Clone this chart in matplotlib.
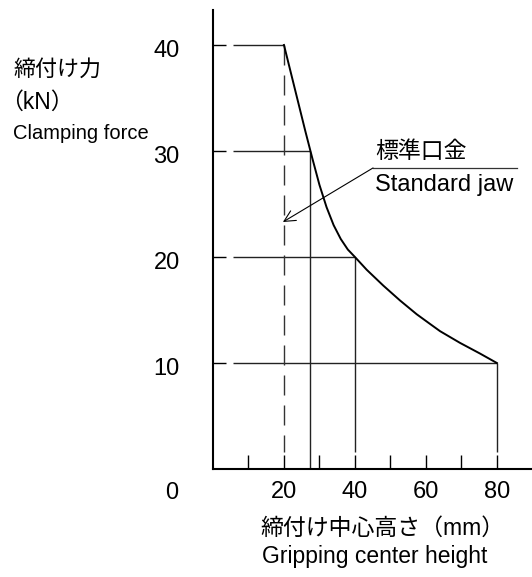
import matplotlib
matplotlib.use("Agg")
import matplotlib.pyplot as plt
from matplotlib.transforms import ScaledTranslation

plt.rcParams['font.family'] = ['Liberation Sans', 'Noto Sans CJK JP']
plt.rcParams['lines.scale_dashes'] = False

# Curve: standard jaw clamping force vs gripping center height
height_mm = [20, 22, 24, 26, 28, 30, 32, 34, 36, 38, 40,
             43.3, 48, 52.7, 57.4, 61.1, 64, 69.6, 75.2, 80]
force_kN = [40, 37.3, 34.6, 31.9, 29.3, 26.8, 24.7, 23.0, 21.7, 20.7, 20.0,
            18.8, 17.3, 15.9, 14.6, 13.7, 13.0, 11.9, 10.9, 10.0]

# Reference guide points (height, force) on the curve
guide_h = [20, 27.4, 40, 80]
guide_f = [40, 30, 20, 10]

x_ticks = [10, 20, 30, 40, 50, 60, 70, 80]
x_ticklabels = ['', '20', '', '40', '', '60', '', '80']
y_ticks = [10, 20, 30, 40]
y_ticklabels = ['10', '20', '30', '40']

W, H = 532, 577
fig = plt.figure(figsize=(W / 100, H / 100), dpi=100)
ax = fig.add_axes([213 / W, 108 / H, (W - 213) / W, 459 / H])
ax.set_xlim(0, 89.9)
ax.set_ylim(0, 43.3)

for s in ['top', 'right']:
    ax.spines[s].set_visible(False)
for s in ['left', 'bottom']:
    ax.spines[s].set_linewidth(1.5)

TICK_FS = 17
ax.set_xticks(x_ticks)
ax.set_xticklabels(x_ticklabels)
ax.set_yticks(y_ticks)
ax.set_yticklabels(y_ticklabels)
ax.tick_params(axis='x', direction='in', length=10, width=1.0, pad=8.5, labelsize=TICK_FS)
ax.tick_params(axis='y', direction='in', length=9.4, width=1.0, pad=24, labelsize=TICK_FS)
shift = ScaledTranslation(0, -3.5 / 100, fig.dpi_scale_trans)
for lab in ax.get_yticklabels():
    lab.set_transform(lab.get_transform() + shift)

thin = dict(color='#222222', lw=1.0, solid_capstyle='butt')
x_gap = 5.6   # where horizontal guide lines start (after tick gap)
y_gap = 1.6   # where vertical guide lines stop (before tick gap)

# Horizontal guides
for h, f in zip(guide_h, guide_f):
    ax.plot([x_gap, h], [f, f], **thin)

# Vertical guides
ax.plot([guide_h[0], guide_h[0]], [guide_f[0], y_gap], color='#333333', lw=1.0,
        linestyle=(0, (14.4, 7.2)))
ax.plot([guide_h[1], guide_h[1]], [guide_f[1], 0], **thin)
ax.plot([guide_h[2], guide_h[2]], [guide_f[2], y_gap], **thin)
ax.plot([guide_h[3], guide_h[3]], [guide_f[3], y_gap], **thin)

# Main curve
ax.plot(height_mm, force_kN, color='black', lw=1.4, solid_joinstyle='round')

# Origin label
ax.annotate('0', xy=(0, 0), xytext=(-29.5, -17.5), textcoords='offset points',
            ha='center', va='center', fontsize=TICK_FS)

# Annotation
ax.plot([45.1, 85.6], [28.4, 28.4], color='#333333', lw=0.9)
ax.annotate('', xy=(19.7, 23.3), xytext=(45.1, 28.4),
            arrowprops=dict(arrowstyle='->', lw=0.8, color='black',
                            shrinkA=0, shrinkB=0, mutation_scale=20))

def ftext(px, py, s, size, **kw):
    fig.text(px / W, 1 - py / H, s, fontsize=size, va='center', ha='left', **kw)

ftext(375, 152, '標準口金', 16.5)
ftext(375, 185, 'Standard jaw', 17)
ftext(13, 70, '締付け力', 15.8)
ftext(0, 102, '（kN）', 16.5)
ftext(13, 133, 'Clamping force', 14.5)
ftext(260, 528, '締付け中心高さ（mm）', 16.5)
ftext(262, 557, 'Gripping center height', 16.5)

fig.savefig('out.png', dpi=100)
